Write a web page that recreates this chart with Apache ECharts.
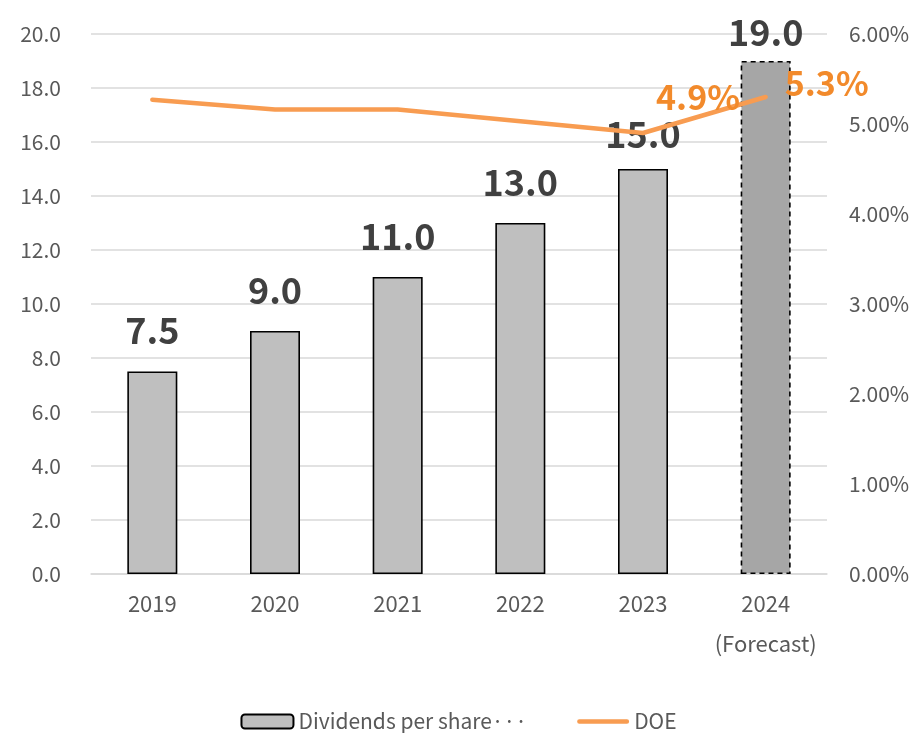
<!DOCTYPE html>
<html>
<head>
<meta charset="utf-8">
<script src="https://cdn.jsdelivr.net/npm/echarts@6/dist/echarts.min.js"></script>
<style>
  html, body { margin: 0; padding: 0; background: #fff; }
  #chart { width: 917px; height: 733px; }
</style>
</head>
<body>
<div id="chart"></div>
<script>
// Fiscal years on the category axis
const years = ['2019', '2020', '2021', '2022', '2023', '2024\n(Forecast)'];
// Dividends per share (yen)
const dividends = [7.5, 9.0, 11.0, 13.0, 15.0, 19.0];
// Dividend on equity (%)
const doe = [5.27, 5.16, 5.16, 5.03, 4.9, 5.3];
// Which DOE points carry a value label
const doeLabelled = [false, false, false, false, true, true];

const FONT = '"Noto Sans CJK JP", "Noto Sans", sans-serif';
const AXIS_TEXT = '#595959';
const DOE_COLOR = '#f89c51';

const barData = dividends.map((v, i) => {
  const item = { value: v };
  const isForecast = i === dividends.length - 1;
  if (isForecast) {
    item.itemStyle = { color: '#a6a6a6', borderColor: '#000', borderType: [5, 4], borderWidth: 1.6 };
    item.label = { distance: 11 };
  } else if (i === 4) {
    item.label = { distance: 17 };
  }
  return item;
});

const lineData = doe.map((v, i) => {
  const item = { value: v };
  if (doeLabelled[i]) {
    item.label = {
      show: true,
      position: 'inside',
      offset: i === 4 ? [55, -36] : [61, -14],
      formatter: (p) => p.value.toFixed(1) + '%',
      color: '#f28a2b',
      fontSize: 34,
      fontWeight: 'bold',
      fontFamily: FONT
    };
  }
  return item;
});

const chart = echarts.init(document.getElementById('chart'), null, { renderer: 'canvas' });
chart.setOption({
  animation: false,
  backgroundColor: '#fff',
  textStyle: { fontFamily: FONT },
  grid: { left: 91, right: 90, top: 34, bottom: 159, containLabel: false },
  legend: {
    top: 706,
    left: 'center',
    itemWidth: 52,
    itemHeight: 14,
    itemGap: 50,
    textStyle: { color: AXIS_TEXT, fontSize: 21, fontFamily: FONT },
    formatter: (name) => name.startsWith('Dividends') ? 'Dividends per share\u00b7\u00b7\u00b7' : name,
    data: [
      { name: 'Dividends per share (yen)' },
      { name: 'DOE', icon: 'path://M2,0 H50 A2,2 0 0 1 50,4.5 H2 A2,2 0 0 1 2,0 Z' }
    ]
  },
  xAxis: {
    type: 'category',
    data: years,
    axisLine: { show: true, lineStyle: { color: '#d9d9d9', width: 1.5 } },
    axisTick: { show: false },
    axisLabel: { interval: 0, color: AXIS_TEXT, fontSize: 22, lineHeight: 40, margin: 10, fontFamily: FONT }
  },
  yAxis: [
    {
      type: 'value',
      min: 0,
      max: 20,
      interval: 2,
      axisLine: { show: false },
      axisTick: { show: false },
      axisLabel: { color: AXIS_TEXT, fontSize: 21, margin: 30, formatter: (v) => v.toFixed(1), fontFamily: FONT },
      splitLine: { lineStyle: { color: '#d9d9d9', width: 1.5 } }
    },
    {
      type: 'value',
      min: 0,
      max: 6,
      interval: 1,
      position: 'right',
      axisLine: { show: false },
      axisTick: { show: false },
      axisLabel: { color: AXIS_TEXT, fontSize: 21, margin: 22, formatter: (v) => v.toFixed(2) + '%', fontFamily: FONT },
      splitLine: { show: false }
    }
  ],
  series: [
    {
      name: 'Dividends per share (yen)',
      type: 'bar',
      yAxisIndex: 0,
      barWidth: 50,
      data: barData,
      itemStyle: { color: '#bfbfbf', borderColor: '#000', borderWidth: 1.6 },
      label: {
        show: true,
        position: 'top',
        distance: 23,
        formatter: (p) => p.value.toFixed(1),
        color: '#404040',
        fontSize: 36,
        fontWeight: 'bold',
        fontFamily: FONT
      },
      z: 2
    },
    {
      name: 'DOE',
      type: 'line',
      yAxisIndex: 1,
      data: lineData,
      symbol: 'circle',
      symbolSize: 0.1,
      showSymbol: true,
      lineStyle: { color: DOE_COLOR, width: 4.5, cap: 'round', join: 'round' },
      itemStyle: { color: DOE_COLOR },
      z: 3
    }
  ]
});
</script>
</body>
</html>
